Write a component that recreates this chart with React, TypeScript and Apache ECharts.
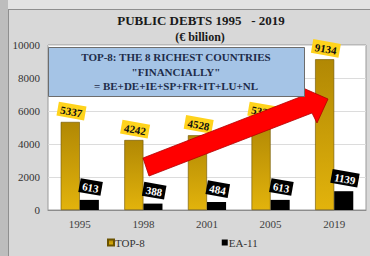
import React, { useEffect, useRef } from "react";
import * as echarts from "echarts";

const years = ["1995", "1998", "2001", "2005", "2019"];
const top8 = [5337, 4242, 4528, 5337, 9134];
const ea11 = [613, 388, 484, 613, 1139];
const seriesNames = ["TOP-8", "EA-11"];
const titleText = "PUBLIC DEBTS 1995   - 2019";
const subtitleText = "(€ billion)";
const boxLines = [
  "TOP-8: THE 8 RICHEST COUNTRIES",
  "\"FINANCIALLY\"",
  "= BE+DE+IE+SP+FR+IT+LU+NL",
];

const SERIF = "Liberation Serif";

export default function App() {
  const ref = useRef<HTMLDivElement>(null);
  useEffect(() => {
    if (!ref.current) return;
    const chart = echarts.init(ref.current, undefined, { renderer: "svg" });
    const gold = new echarts.graphic.LinearGradient(0, 0, 0, 1, [
      { offset: 0, color: "#b18804" },
      { offset: 1, color: "#e2b30c" },
    ]);
    chart.setOption({
      animation: false,
      backgroundColor: "#d8d8d8",
      textStyle: { fontFamily: SERIF },
      title: [
        {
          text: titleText,
          left: 196,
          top: 9,
          textAlign: "center",
          textStyle: { fontFamily: SERIF, fontSize: 13, fontWeight: "bold", color: "#1a1a1a" },
        },
        {
          text: subtitleText,
          left: 195,
          top: 26,
          textAlign: "center",
          textStyle: { fontFamily: SERIF, fontSize: 12, fontWeight: "bold", color: "#1a1a1a" },
        },
      ],
      grid: {
        left: 48,
        right: 4,
        top: 45,
        bottom: 46,
        show: true,
        backgroundColor: "#ffffff",
        borderColor: "#9a9a9a",
        borderWidth: 1,
      },
      legend: {
        left: 107,
        top: 237,
        padding: 0,
        itemGap: 77,
        itemWidth: 6,
        itemHeight: 6,
        icon: "rect",
        data: seriesNames,
        textStyle: { fontFamily: SERIF, fontSize: 11, color: "#333", padding: [0, 0, 0, -4] },
      },
      xAxis: {
        type: "category",
        data: years,
        axisLine: { lineStyle: { color: "#8c8c8c" } },
        axisTick: { show: false },
        axisLabel: { fontFamily: SERIF, fontSize: 11, color: "#404040", margin: 8 },
      },
      yAxis: {
        type: "value",
        min: 0,
        max: 10000,
        interval: 2000,
        axisLine: { show: false },
        axisTick: { show: false },
        axisLabel: {
          fontFamily: SERIF,
          fontSize: 11,
          color: "#333",
          margin: 8,
          formatter: (v: number) => String(v),
        },
        splitLine: { lineStyle: { color: "#dcdcdc" } },
      },
      series: [
        {
          name: seriesNames[0],
          type: "bar",
          data: top8,
          barGap: "0%",
          barCategoryGap: "40%",
          itemStyle: { color: gold, borderColor: "#6b5300", borderWidth: 0.6 },
          label: {
            show: true,
            position: "top",
            distance: 4,
            rotate: -10,
            backgroundColor: "#ffd31c",
            color: "#111",
            fontFamily: SERIF,
            fontWeight: "bold",
            fontSize: 11,
            padding: [2, 3, 1, 3],
          },
        },
        {
          name: seriesNames[1],
          type: "bar",
          data: ea11,
          itemStyle: { color: "#000000" },
          label: {
            show: true,
            position: "top",
            distance: 6,
            rotate: -10,
            backgroundColor: "#000000",
            color: "#ffffff",
            fontFamily: SERIF,
            fontWeight: "bold",
            fontSize: 11,
            padding: [2, 3, 1, 3],
          },
        },
      ],
      graphic: [
        { type: "rect", z: -10, shape: { x: 0, y: 0, width: 8, height: 256 }, style: { fill: "#bdbdbd" } },
        { type: "rect", z: -10, shape: { x: 8, y: 0, width: 362, height: 9 }, style: { fill: "#e3e3e3" } },
        { type: "line", z: -9, shape: { x1: 8, y1: 9.5, x2: 370, y2: 9.5 }, style: { stroke: "#8f8f8f", lineWidth: 1 } },
        { type: "line", z: -9, shape: { x1: 8.5, y1: 9, x2: 8.5, y2: 256 }, style: { stroke: "#8f8f8f", lineWidth: 1 } },
        {
          type: "polygon",
          z: 100,
          shape: {
            points: [
              [143, 158],
              [300, 97],
              [303, 88],
              [328, 99],
              [317, 123],
              [312, 113],
              [149, 176],
            ],
          },
          style: { fill: "#ff0000", stroke: "#b00000", lineWidth: 0.8 },
        },
        {
          type: "rect",
          z: 100,
          shape: { x: 48.5, y: 47.5, width: 256, height: 49 },
          style: { fill: "#a5c4e6", stroke: "#6d6d6d", lineWidth: 1 },
        },
        ...boxLines.map((t, i) => ({
          type: "text",
          z: 101,
          x: 176,
          y: 57 + i * 14.5,
          style: {
            text: t,
            fill: "#1e2c4a",
            font: `bold 11px "${SERIF}"`,
            textAlign: "center",
            textVerticalAlign: "middle",
          },
        })),
      ],
    });
    return () => chart.dispose();
  }, []);
  return (
    <div
      ref={ref}
      style={{ position: "fixed", left: 0, top: 0, width: 370, height: 256 }}
    />
  );
}
